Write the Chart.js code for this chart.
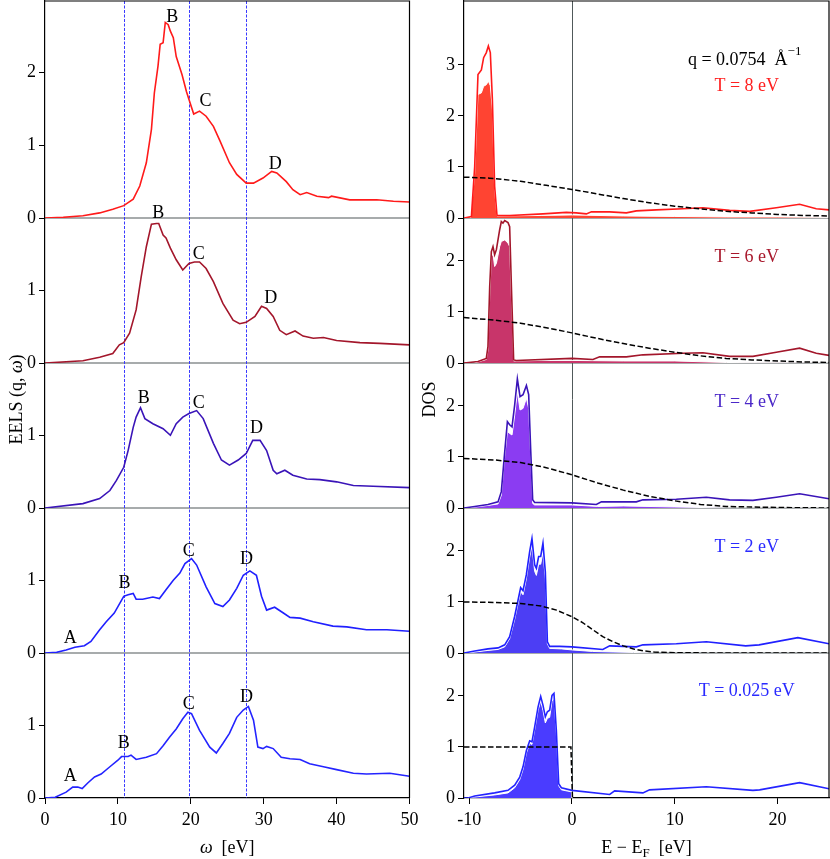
<!DOCTYPE html>
<html>
<head>
<meta charset="utf-8">
<script src="https://cdn.jsdelivr.net/npm/chart.js@4.4.1/dist/chart.umd.min.js"></script>
<style>
  body { margin: 0; background: #fff; }
  #wrap { position: relative; width: 830px; height: 859px; }
  #eels { position: absolute; left: 0; top: 0; }
  #dos { position: absolute; left: 415px; top: 0; }
</style>
</head>
<body>
<div id="wrap">
  <canvas id="eels" width="425" height="859"></canvas>
  <canvas id="dos" width="415" height="859"></canvas>
</div>
<script>
// ---- data ----
const temps = ['8', '6', '4', '2', '0.025'];
const xTicksEels = [0, 10, 20, 30, 40, 50];
const xTicksDos = [-10, 0, 10, 20];
const yTicksEels = [[0, 1, 2], [0, 1], [0, 1], [0, 1], [0, 1]];
const yTicksDos = [[0, 1, 2, 3], [0, 1, 2], [0, 1, 2], [0, 1, 2], [0, 1, 2]];
const peakLines = [10.82, 19.75, 27.6];

// EELS(q, w): [omega eV, value]
const eels8 = [[0,0],[2.5,0.01],[5.2,0.03],[7.5,0.07],[9.3,0.12],[10.8,0.17],[12.1,0.26],[13.0,0.44],[13.9,0.76],[14.6,1.22],[15.0,1.72],[15.5,2.09],[15.8,2.39],[16.2,2.41],[16.5,2.69],[16.9,2.66],[17.2,2.57],[17.6,2.48],[18.0,2.22],[18.8,1.97],[19.4,1.74],[19.75,1.63],[20.4,1.43],[21.2,1.47],[22.1,1.40],[23.1,1.26],[24.0,1.06],[25.3,0.76],[26.3,0.60],[27.6,0.48],[28.6,0.48],[29.9,0.55],[31.1,0.64],[31.8,0.62],[33.1,0.50],[34.0,0.39],[35.0,0.32],[35.9,0.35],[37.3,0.30],[38.9,0.28],[39.3,0.30],[41.8,0.25],[45.5,0.25],[47.8,0.23],[50,0.22]];
const eels6 = [[0,0],[5.2,0.03],[7.5,0.08],[9.3,0.13],[10.2,0.25],[10.8,0.28],[11.6,0.41],[12.5,0.73],[13.2,1.19],[13.9,1.60],[14.6,1.91],[15.3,1.92],[15.6,1.92],[16.2,1.76],[16.6,1.72],[17.2,1.58],[18.0,1.42],[18.9,1.28],[19.75,1.37],[20.5,1.39],[21.2,1.39],[22.1,1.30],[23.1,1.12],[24.4,0.82],[25.8,0.59],[26.7,0.54],[27.6,0.56],[28.8,0.64],[29.7,0.78],[30.4,0.75],[31.3,0.64],[32.2,0.45],[33.1,0.39],[34.3,0.44],[35.4,0.37],[36.8,0.34],[38.2,0.35],[40.0,0.31],[43.2,0.28],[45.9,0.27],[50,0.25]];
const eels4 = [[0,0],[5.2,0.06],[7.5,0.13],[8.9,0.24],[9.8,0.38],[10.8,0.56],[11.4,0.79],[12.1,1.11],[12.5,1.25],[13.1,1.38],[13.7,1.23],[14.8,1.16],[16.2,1.09],[17.2,1.00],[18.0,1.16],[18.9,1.25],[19.75,1.30],[20.8,1.34],[21.7,1.23],[23.1,0.89],[24.2,0.66],[25.3,0.59],[26.5,0.66],[27.6,0.75],[28.5,0.93],[29.5,0.93],[30.4,0.79],[31.3,0.52],[31.8,0.47],[32.9,0.52],[34.0,0.45],[35.9,0.40],[37.7,0.39],[40.0,0.36],[42.3,0.31],[45.0,0.30],[50,0.28]];
const eels2 = [[0,0],[1.6,0.01],[2.9,0.04],[4.1,0.08],[5.4,0.10],[6.3,0.16],[7.5,0.32],[8.4,0.43],[9.5,0.55],[10.8,0.78],[11.4,0.80],[12.1,0.82],[12.5,0.74],[13.4,0.74],[14.8,0.77],[15.7,0.75],[16.6,0.87],[17.6,1.00],[18.5,1.10],[19.2,1.23],[20.1,1.30],[20.8,1.21],[22.1,0.91],[23.3,0.68],[24.4,0.64],[25.3,0.73],[26.3,0.89],[27.2,1.07],[28.1,1.13],[29.0,1.07],[29.7,0.78],[30.4,0.59],[31.5,0.63],[32.7,0.55],[33.6,0.49],[35.0,0.48],[36.8,0.43],[39.5,0.37],[41.4,0.36],[44.1,0.32],[46.9,0.32],[50,0.30]];
const eels0025 = [[0,0],[1.4,0.01],[2.9,0.08],[3.8,0.15],[4.5,0.15],[5.1,0.13],[5.9,0.21],[6.8,0.29],[7.7,0.33],[8.9,0.43],[10.0,0.52],[10.5,0.57],[11.4,0.57],[11.8,0.59],[12.5,0.53],[13.9,0.56],[15.3,0.61],[16.2,0.72],[17.1,0.84],[18.0,0.95],[18.9,1.09],[19.6,1.18],[20.1,1.16],[21.2,0.93],[22.6,0.70],[23.5,0.62],[24.4,0.75],[25.3,0.89],[26.3,1.11],[27.2,1.21],[27.9,1.26],[28.6,1.07],[29.2,0.70],[29.9,0.68],[30.4,0.71],[31.3,0.68],[32.4,0.56],[33.6,0.54],[35.0,0.53],[36.3,0.47],[38.2,0.43],[40.0,0.39],[42.3,0.34],[44.1,0.33],[47.3,0.34],[50,0.30]];

// peak letters: [text, omega, value]
const eelsLabels = [
  [['B', 17.47, 2.69], ['C', 22.0, 1.54], ['D', 31.6, 0.68]],
  [['B', 15.55, 1.99], ['C', 21.08, 1.43], ['D', 30.98, 0.83]],
  [['B', 13.53, 1.44], ['C', 21.08, 1.38], ['D', 29.01, 1.03]],
  [['A', 3.46, 0.14], ['B', 10.92, 0.89], ['C', 19.71, 1.33], ['D', 27.64, 1.23]],
  [['A', 3.46, 0.23], ['B', 10.82, 0.69], ['C', 19.71, 1.23], ['D', 27.64, 1.32]]
];

// DOS: [E - EF eV, value]
const dos8 = [[-10.5,0],[-9.78,0.03],[-9.46,1.01],[-9.14,2.81],[-8.81,2.90],[-8.59,3.14],[-8.33,3.24],[-8.13,3.37],[-7.94,3.24],[-7.74,2.32],[-7.52,0.62],[-7.29,0.05],[-6.06,0.05],[-2.82,0.08],[-0.55,0.11],[0.42,0.10],[1.40,0.08],[1.89,0.12],[3.67,0.12],[5.29,0.10],[6.26,0.14],[8.21,0.16],[10.8,0.18],[12.74,0.20],[15.33,0.15],[17.28,0.13],[19.87,0.20],[22.14,0.27],[23.76,0.18],[25,0.16]];
const dos6 = [[-10.5,0],[-9.14,0.03],[-8.33,0.09],[-8.17,0.32],[-8.0,1.50],[-7.84,2.18],[-7.68,2.28],[-7.52,2.12],[-7.35,2.22],[-7.03,2.61],[-6.87,2.77],[-6.71,2.74],[-6.54,2.79],[-6.22,2.75],[-6.06,2.67],[-5.89,1.50],[-5.67,0.06],[-5.41,0.05],[0,0.09],[2.04,0.07],[2.69,0.12],[5.29,0.12],[6.9,0.16],[10.8,0.19],[12.74,0.20],[15.33,0.13],[17.6,0.13],[19.87,0.21],[22.14,0.29],[23.76,0.19],[25,0.15]];
const dos4 = [[-10.5,0],[-9.46,0.03],[-8.17,0.07],[-7.19,0.12],[-6.87,0.32],[-6.54,1.10],[-6.28,1.69],[-6.06,1.63],[-5.83,1.59],[-5.57,2.02],[-5.31,2.53],[-5.05,2.18],[-4.76,2.22],[-4.43,2.40],[-4.21,2.22],[-4.02,1.17],[-3.82,0.16],[-3.63,0.11],[0,0.10],[2.37,0.07],[2.86,0.12],[6.26,0.12],[6.9,0.16],[10.15,0.17],[13.07,0.21],[15.33,0.16],[17.6,0.15],[19.87,0.21],[22.14,0.28],[25,0.18]];
const dos2 = [[-10.5,0],[-9.46,0.04],[-8.17,0.08],[-7.19,0.10],[-6.54,0.16],[-6.06,0.32],[-5.57,0.72],[-4.99,1.28],[-4.76,1.22],[-4.44,1.53],[-4.11,1.99],[-3.89,2.24],[-3.63,1.73],[-3.46,1.66],[-3.24,1.89],[-3.04,1.89],[-2.82,2.15],[-2.59,1.59],[-2.39,0.22],[-2.17,0.13],[-1.2,0.13],[0,0.12],[3.0,0.07],[3.67,0.14],[6.26,0.12],[6.9,0.16],[10.15,0.18],[13.07,0.22],[16.9,0.14],[18.2,0.16],[21.97,0.30],[25,0.18]];
const dos0025 = [[-10.5,0],[-10.1,0],[-9.46,0.04],[-7.52,0.10],[-6.22,0.15],[-5.57,0.25],[-5.08,0.41],[-4.76,0.61],[-4.43,0.93],[-4.11,1.12],[-3.89,1.10],[-3.63,1.39],[-3.30,1.78],[-3.04,1.99],[-2.82,1.82],[-2.59,1.59],[-2.39,1.69],[-2.17,1.72],[-1.94,2.01],[-1.75,2.05],[-1.52,1.33],[-1.29,0.28],[-1.03,0.20],[0,0.15],[3.67,0.07],[4.15,0.14],[6.9,0.10],[7.55,0.16],[13.07,0.22],[17.6,0.15],[18.25,0.16],[22.14,0.30],[25,0.18]];

// occupied part of the DOS (filled)
const occ8 = [[-9.85,0],[-9.46,0.88],[-9.14,2.42],[-8.81,2.45],[-8.59,2.58],[-8.33,2.61],[-8.13,2.68],[-7.94,2.59],[-7.74,2.12],[-7.52,0.56],[-7.3,0.04],[-3,0.05],[0,0.06],[5,0.04],[10,0.03],[15,0.02],[20,0.02],[25,0.01]];
const occ6 = [[-9.5,0],[-8.33,0.07],[-8.17,0.25],[-8.0,1.30],[-7.84,2.08],[-7.68,2.14],[-7.52,1.89],[-7.35,1.95],[-7.03,2.28],[-6.87,2.38],[-6.54,2.41],[-6.22,2.35],[-6.06,2.28],[-5.89,1.30],[-5.67,0.04],[-3,0.05],[0,0.05],[5,0.04],[10,0.04],[15,0.01],[25,0]];
const occ4 = [[-10.2,0],[-8.17,0.05],[-7.19,0.08],[-6.87,0.25],[-6.54,1.01],[-6.28,1.50],[-6.06,1.46],[-5.83,1.43],[-5.57,1.82],[-5.31,2.28],[-5.05,1.92],[-4.76,1.95],[-4.43,2.15],[-4.21,1.95],[-4.02,1.04],[-3.82,0.09],[-3.63,0.06],[0,0.06],[2.5,0.03],[5,0.04],[10,0.02],[15,0],[25,0]];
const occ2 = [[-10.3,0],[-8.17,0.05],[-7.19,0.07],[-6.54,0.12],[-6.06,0.28],[-5.57,0.66],[-4.99,1.20],[-4.76,1.14],[-4.44,1.45],[-4.11,1.88],[-3.89,2.10],[-3.63,1.60],[-3.46,1.52],[-3.24,1.74],[-3.04,1.74],[-2.82,1.97],[-2.59,1.45],[-2.39,0.18],[-2.17,0.09],[-1,0.08],[0,0.06],[2,0.03],[4,0.02],[6,0.01],[8,0]];
const occ0025 = [[-10.1,0],[-9.46,0.02],[-7.52,0.06],[-6.22,0.10],[-5.57,0.20],[-5.08,0.36],[-4.76,0.56],[-4.43,0.88],[-4.11,1.07],[-3.89,1.05],[-3.63,1.33],[-3.30,1.71],[-3.04,1.90],[-2.82,1.72],[-2.59,1.47],[-2.39,1.56],[-2.17,1.58],[-1.94,1.90],[-1.75,1.95],[-1.52,1.27],[-1.29,0.24],[-1.03,0.16],[-0.05,0.12],[0,0]];

// Fermi occupation (dashed)
const fermi8 = [[-10.5,0.80],[-8,0.78],[-5,0.72],[-2.5,0.64],[0,0.56],[2.5,0.47],[5,0.38],[7.5,0.30],[10,0.23],[12.5,0.18],[15,0.13],[17.5,0.10],[20,0.07],[22.5,0.05],[25,0.04]];
const fermi6 = [[-10.5,0.89],[-7.5,0.84],[-5,0.78],[-2.5,0.69],[0,0.59],[2.5,0.48],[5,0.38],[7.5,0.29],[10,0.21],[12.5,0.14],[15,0.09],[17.5,0.06],[20,0.04],[22.5,0.02],[25,0.01]];
const fermi4 = [[-10.5,0.97],[-7.5,0.94],[-5,0.89],[-2.5,0.79],[0,0.65],[2.5,0.49],[5,0.35],[7.5,0.23],[10,0.14],[12.5,0.07],[15,0.03],[17.5,0.02],[20,0.01],[25,0]];
const fermi2 = [[-10.5,1.0],[-7.5,0.99],[-5,0.97],[-3,0.92],[-1.5,0.84],[0,0.71],[1,0.60],[2,0.46],[3,0.32],[4,0.22],[5,0.14],[6,0.08],[7,0.04],[8,0.02],[10,0.005],[15,0],[25,0]];
const fermi0025 = [[-10.5,1.0],[-0.1,1.0],[0.05,0],[25,0]];

// ---- styling ----
const FONT = '"Liberation Serif", "DejaVu Serif", serif';
const lineColors = ['#ff1a1a', '#a3162b', '#3a14b8', '#2020ff', '#2424ff'];
const fillColors = ['#ff4432', '#c8356a', '#8b3cf2', '#4c3ef4', '#4a3cff'];
const textColors = ['#ff1f1f', '#a8182c', '#4b28c8', '#2a2aff', '#2a2aff'];
const sepColor = '#50595a';

const eelsSeries = [eels8, eels6, eels4, eels2, eels0025];
const dosSeries = [dos8, dos6, dos4, dos2, dos0025];
const occSeries = [occ8, occ6, occ4, occ2, occ0025];
const fermiSeries = [fermi8, fermi6, fermi4, fermi2, fermi0025];

const pts = arr => arr.map(p => ({x: p[0], y: p[1]}));

function drawRuns(ctx, runs, cx, cy, rot) {
  ctx.save();
  ctx.translate(cx, cy);
  if (rot) ctx.rotate(rot);
  ctx.textAlign = 'left';
  ctx.textBaseline = 'alphabetic';
  let w = 0;
  runs.forEach(r => { ctx.font = r.font; w += ctx.measureText(r.text).width; });
  let x = -w / 2;
  runs.forEach(r => {
    ctx.font = r.font;
    ctx.fillStyle = r.color || '#000';
    ctx.fillText(r.text, x, r.dy || 0);
    x += ctx.measureText(r.text).width;
  });
  ctx.restore();
}

function yScales(ticksList, maxes, weights, width) {
  const s = {};
  ticksList.forEach((tk, i) => {
    s['y' + (i + 1)] = {
      type: 'linear', position: 'left', stack: 'col', stackWeight: weights[i], weight: 10 - i,
      min: 0, max: maxes[i],
      afterBuildTicks: sc => { sc.ticks = tk.map(v => ({value: v})); },
      afterFit: sc => { sc.width = width; sc.paddingTop = 0; sc.paddingBottom = 0; },
      grid: {drawOnChartArea: false, tickLength: 6, tickColor: '#000', tickWidth: 1},
      border: {color: '#000', width: 1.2},
      ticks: {color: '#000', font: {family: FONT, size: 18}, padding: 3}
    };
  });
  return s;
}

function xScale(min, max, ticks) {
  return {
    type: 'linear', position: 'bottom', min: min, max: max,
    afterBuildTicks: sc => { sc.ticks = ticks.map(v => ({value: v})); },
    afterFit: sc => { sc.height = 61; sc.paddingLeft = 0; sc.paddingRight = 0; },
    grid: {drawOnChartArea: false, tickLength: 6, tickColor: '#000', tickWidth: 1},
    border: {color: '#000', width: 1.2},
    ticks: {color: '#000', font: {family: FONT, size: 18}, padding: 5, maxRotation: 0, autoSkip: false}
  };
}

// frame, separators and guide lines
function framePlugin(vlines) {
  return {
    id: 'frame',
    beforeDatasetsDraw(chart) {
      const {ctx, chartArea: a, scales} = chart;
      ctx.save();
      for (let i = 1; i <= 4; i++) {
        const y = scales['y' + i].bottom;
        ctx.strokeStyle = sepColor; ctx.lineWidth = 1.2;
        ctx.beginPath(); ctx.moveTo(a.left, y); ctx.lineTo(a.right, y); ctx.stroke();
      }
      vlines.forEach(v => {
        const x = Math.round(scales.x.getPixelForValue(v.x)) + 0.5;
        ctx.strokeStyle = v.color; ctx.lineWidth = v.width; ctx.setLineDash(v.dash);
        ctx.beginPath(); ctx.moveTo(x, a.top); ctx.lineTo(x, a.bottom); ctx.stroke();
      });
      ctx.restore();
    },
    afterDraw(chart) {
      const {ctx, chartArea: a} = chart;
      ctx.save();
      ctx.strokeStyle = '#000'; ctx.lineWidth = 1.2;
      ctx.beginPath();
      ctx.moveTo(a.left, a.top); ctx.lineTo(a.right, a.top); ctx.lineTo(a.right, a.bottom);
      ctx.stroke();
      ctx.restore();
    }
  };
}

const common = {
  responsive: false, animation: false, events: [],
  plugins: {legend: {display: false}, tooltip: {enabled: false}}
};

// ---- left column: EELS ----
const eelsChart = new Chart(document.getElementById('eels'), {
  type: 'scatter',
  data: {
    datasets: eelsSeries.map((s, i) => ({
      data: pts(s), yAxisID: 'y' + (i + 1), showLine: true,
      borderColor: lineColors[i], borderWidth: 1.6, pointRadius: 0, tension: 0
    }))
  },
  options: Object.assign({}, common, {
    layout: {padding: {left: 0, right: 15.5, top: 1, bottom: 0}},
    scales: Object.assign({x: xScale(0, 50, xTicksEels)},
      yScales(yTicksEels, [2.985, 1.995, 1.995, 1.995, 1.995], [217, 145, 145, 145, 145], 45))
  }),
  plugins: [
    framePlugin(peakLines.map(x => ({x: x, color: '#3a3aff', width: 1, dash: [3, 1.5]}))),
    {
      id: 'eelsText',
      afterDraw(chart) {
        const {ctx, scales} = chart;
        ctx.save();
        ctx.font = '18px ' + FONT; ctx.fillStyle = '#000';
        ctx.textAlign = 'center'; ctx.textBaseline = 'alphabetic';
        eelsLabels.forEach((lst, i) => lst.forEach(([t, x, y]) => {
          ctx.fillText(t, scales.x.getPixelForValue(x), scales['y' + (i + 1)].getPixelForValue(y));
        }));
        ctx.restore();
        const f = '18px ' + FONT, fi = 'italic 18px ' + FONT;
        drawRuns(ctx, [{text: 'EELS (q, ', font: f}, {text: 'ω', font: fi}, {text: ')', font: f}],
          21.5, (chart.chartArea.top + chart.chartArea.bottom) / 2, -Math.PI / 2);
        drawRuns(ctx, [{text: 'ω', font: fi}, {text: '  [eV]', font: f}],
          (chart.chartArea.left + chart.chartArea.right) / 2, 853);
      }
    }
  ]
});

// ---- right column: DOS ----
const dosDatasets = [];
dosSeries.forEach((s, i) => {
  const yid = 'y' + (i + 1);
  dosDatasets.push({data: pts(fermiSeries[i]), yAxisID: yid, showLine: true, order: 0,
    borderColor: '#000', borderWidth: 1.5, borderDash: [5.5, 2.5], pointRadius: 0});
  dosDatasets.push({data: pts(s), yAxisID: yid, showLine: true, order: 1,
    borderColor: lineColors[i], borderWidth: 1.6, pointRadius: 0});
  dosDatasets.push({data: pts(occSeries[i]), yAxisID: yid, showLine: true, order: 2,
    borderColor: '#fff', borderWidth: 1, pointRadius: 0, fill: 'origin', backgroundColor: fillColors[i]});
});
const tempPos = [[17.0, 2.48], [17.0, 1.97], [17.0, 1.97], [17.0, 1.97], [17.0, 2.0]];

const dosChart = new Chart(document.getElementById('dos'), {
  type: 'scatter',
  data: {datasets: dosDatasets},
  options: Object.assign({}, common, {
    layout: {padding: {left: 0, right: 1, top: 1, bottom: 0}},
    scales: Object.assign({x: xScale(-10.5, 25, xTicksDos)},
      yScales(yTicksDos, [4.25, 2.84, 2.84, 2.84, 2.84], [217, 145, 145, 145, 145], 49))
  }),
  plugins: [
    framePlugin([{x: 0, color: '#50595a', width: 1, dash: []}]),
    {
      id: 'dosText',
      afterDraw(chart) {
        const {ctx, scales, chartArea: a} = chart;
        const f = '18px ' + FONT;
        temps.forEach((t, i) => {
          const p = tempPos[i];
          drawRuns(ctx, [{text: 'T = ' + t + ' eV', font: f, color: textColors[i]}],
            scales.x.getPixelForValue(p[0]), scales['y' + (i + 1)].getPixelForValue(p[1]));
        });
        drawRuns(ctx, [{text: 'q = 0.0754  Å', font: f}, {text: '−1', font: '13px ' + FONT, dy: -10}],
          scales.x.getPixelForValue(16.8), scales.y1.getPixelForValue(2.99));
        drawRuns(ctx, [{text: 'DOS', font: f}], 20, (a.top + a.bottom) / 2, -Math.PI / 2);
        drawRuns(ctx, [{text: 'E − E', font: f}, {text: 'F', font: '13px ' + FONT, dy: 4},
          {text: '  [eV]', font: f}], (a.left + a.right) / 2, 853);
      }
    }
  ]
});
</script>
</body>
</html>
